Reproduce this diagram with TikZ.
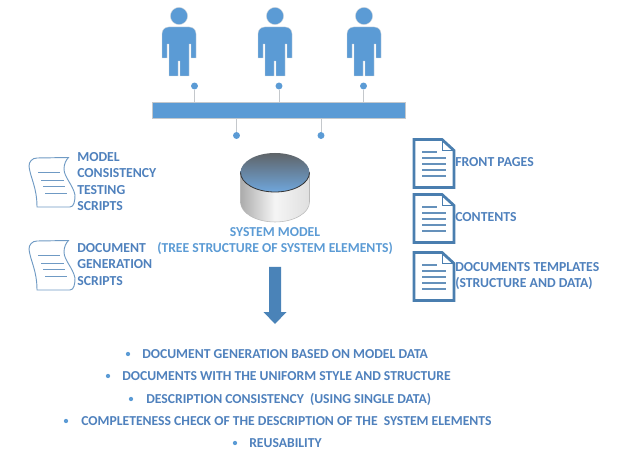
\documentclass[tikz,border=0pt]{standalone}
\usepackage{fontspec}
\setmainfont{Carlito}
\definecolor{fillblue}{HTML}{5B9BD5}
\definecolor{labelblue}{HTML}{4F81BD}
\definecolor{docblue}{HTML}{4A7EAF}
\definecolor{scrollblue}{HTML}{6F9AC4}
\definecolor{stemgray}{HTML}{C4C8CC}
\definecolor{arrowblue}{HTML}{4A83B8}
\definecolor{lidtop}{HTML}{5F6468}
\definecolor{lidbottom}{HTML}{6FA6DC}
\tikzset{
  x=0.75pt, y=-0.75pt,
  label text/.style={font=\bfseries\fontsize{10.3pt}{12.4pt}\selectfont, text=labelblue, anchor=west, inner sep=0pt, align=left},
  model text/.style={font=\bfseries\fontsize{10.25pt}{12.4pt}\selectfont, text=fillblue, inner sep=0pt},
  bullet text/.style={font=\bfseries\fontsize{10.24pt}{12pt}\selectfont, text=labelblue, anchor=west, inner sep=0pt},
  bullet dot/.style={circle, fill=fillblue, draw=none, inner sep=0pt, minimum size=3.2pt},
  stem dot/.style={circle, fill=fillblue, draw=none, inner sep=0pt, minimum size=5.2pt},
  stem/.style={draw=stemgray, line width=0.7pt},
  person/.pic={
    \fill[fillblue, draw=stemgray!70, line width=0.3pt] (0,-11) circle (8.6);
    \fill[fillblue, draw=stemgray!70, line width=0.3pt, rounded corners=5pt]
      (-17,31) [sharp corners] -- (-17,8) [rounded corners=5pt] -- (-17,0) -- (17,0) [sharp corners] -- (17,8) -- (17,31) -- (12,31)
      -- (12,17) -- (10,17) -- (10,49) -- (1,49) -- (1,34) -- (-1,34)
      -- (-1,49) -- (-10,49) -- (-10,17) -- (-12,17) -- (-12,31) -- cycle;
  },
  scroll sheet/.pic={
    \draw[scrollblue, line width=0.7pt]
      (39.5,0.5) -- (8,1) .. controls (3,1) and (0,5) .. (0,9)
      .. controls (1,20) and (8,30) .. (8,50) -- (41,50)
      .. controls (45,50) and (46,44) .. (46,38)
      .. controls (44,28) and (35,20) .. (35,12) .. controls (35,7) and (37,3) .. (39.5,0.5) -- cycle;
    \draw[scrollblue, line width=0.7pt]
      (9,15) -- (31,15) (12,23) -- (35,23) (14,29) -- (36,29) (16,36) -- (38,36);
  },
  page sheet/.pic={
    \draw[docblue, line width=2.1pt, fill=white, miter limit=2]
      (0,0) -- (28,0) -- (40,11) -- (40,48) -- (0,48) -- cycle;
    \draw[docblue, line width=0.6pt] (28,0) -- (28,11) -- (40,11);
    \draw[docblue!85, line width=1.2pt]
      (8,12.5) -- (23,12.5) (8,18.5) -- (32,18.5) (8,24.5) -- (32,24.5)
      (8,30.5) -- (32,30.5) (8,36.5) -- (32,36.5);
  }
}
\begin{document}
\begin{tikzpicture}
\useasboundingbox (0,0) rectangle (620,459);
\fill[white] (0,0) rectangle (620,459);

% People
\pic at (179,27) {person};
\pic at (275,27) {person};
\pic at (364,27) {person};

% Shared bar with its connection points
\node[draw=stemgray, line width=0.5pt, fill=fillblue, minimum width=190pt, minimum height=12.4pt, inner sep=0pt] (bar) at (279,110.5) {};
\node[stem dot] (t1) at (194.5,86) {};
\node[stem dot] (t2) at (279,86) {};
\node[stem dot] (t3) at (363.5,86) {};
\node[stem dot] (b1) at (236.5,135.5) {};
\node[stem dot] (b2) at (321,135.5) {};
\draw[stem] (t1) -- (t1 |- bar.north);
\draw[stem] (t2) -- (t2 |- bar.north);
\draw[stem] (t3) -- (t3 |- bar.north);
\draw[stem] (b1) -- (b1 |- bar.south);
\draw[stem] (b2) -- (b2 |- bar.south);

% Database cylinder: body, then lid
\path[left color=gray!65, right color=gray!25, middle color=gray!8]
  (240.5,172) -- (240.5,202) arc[start angle=180, end angle=0, x radius=34.5, y radius=20]
  -- (309.5,172) -- cycle;
\draw[gray!55, line width=0.4pt]
  (240.5,172) -- (240.5,202) arc[start angle=180, end angle=0, x radius=34.5, y radius=20] -- (309.5,172);
\path[top color=lidtop, bottom color=lidbottom]
  (275,172.5) ellipse[x radius=34.5, y radius=19.5];
\draw[black!80, line width=0.6pt]
  (240.5,172.5) arc[start angle=180, end angle=0, x radius=34.5, y radius=19.5];

\node[model text] (model) at (275,232) {SYSTEM MODEL};
\node[model text, anchor=west] (tree) at (157,248) {(TREE STRUCTURE OF SYSTEM ELEMENTS)};

% Downward block arrow
\fill[arrowblue] (269,267) -- (281,267) -- (281,312) -- (286.5,312) -- (275,324) -- (263.5,312) -- (269,312) -- cycle;

% Script sheets
\pic at (29,157) {scroll sheet};
\pic at (29,240) {scroll sheet};
\node[label text] (s1) at (77,181.5) {MODEL\\CONSISTENCY\\TESTING\\SCRIPTS};
\node[label text] (s2) at (77,264.5) {DOCUMENT\\GENERATION\\SCRIPTS};

% Template pages
\pic at (414,139.5) {page sheet};
\pic at (414,194.5) {page sheet};
\pic at (414,252.5) {page sheet};
\node[label text] (p1) at (455,162) {FRONT PAGES};
\node[label text] (p2) at (455,217) {CONTENTS};
\node[label text] (p3) at (455,276) {DOCUMENTS TEMPLATES\\(STRUCTURE AND DATA)};

% Benefits
\node[bullet dot] at (128,354) {};
\node[bullet text] at (142,354) {DOCUMENT GENERATION BASED ON MODEL DATA};
\node[bullet dot] at (108,376) {};
\node[bullet text] at (122,376) {DOCUMENTS WITH THE UNIFORM STYLE AND STRUCTURE};
\node[bullet dot] at (131,399) {};
\node[bullet text] at (146,399) {DESCRIPTION CONSISTENCY\ \ (USING SINGLE DATA)};
\node[bullet dot] at (66,421) {};
\node[bullet text] at (81,421) {COMPLETENESS CHECK OF THE DESCRIPTION OF THE\ \ SYSTEM ELEMENTS};
\node[bullet dot] at (235,443) {};
\node[bullet text] at (249,443) {REUSABILITY};
\end{tikzpicture}
\end{document}
